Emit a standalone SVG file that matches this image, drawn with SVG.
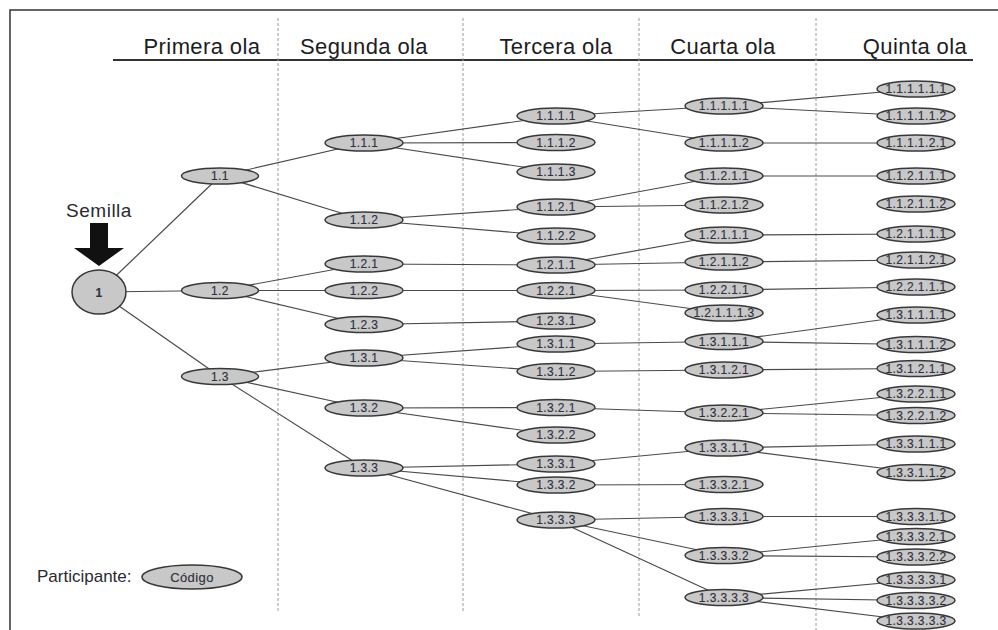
<svg xmlns="http://www.w3.org/2000/svg" width="998" height="630" viewBox="0 0 998 630">
<style>
.frame{stroke:#333;stroke-width:1.5;fill:none}
.hdr{font-family:"Liberation Sans",Arial,sans-serif;font-size:22px;fill:#1c1c22;text-anchor:middle;letter-spacing:0.4px}
.div{stroke:#9a9a9a;stroke-width:1;stroke-dasharray:3 2}
.n ellipse{fill:#c8c8c8;stroke:#383838;stroke-width:1.5}
.n text{font-family:"Liberation Sans",Arial,sans-serif;font-size:12px;fill:#30303e;text-anchor:middle;letter-spacing:0.4px;stroke:#30303e;stroke-width:0.15}
#edges line{stroke:#4a4a4a;stroke-width:1.2}
.lbl{font-family:"Liberation Sans",Arial,sans-serif;fill:#2a2a30}
</style>
<rect width="998" height="630" fill="#fff"/>
<path class="frame" d="M10,630 V10 H998"/>
<line x1="113" y1="60" x2="973" y2="60" stroke="#333" stroke-width="2"/>
<g id="headers">
<text class="hdr" x="202" y="54">Primera ola</text>
<text class="hdr" x="364" y="54">Segunda ola</text>
<text class="hdr" x="556" y="54">Tercera ola</text>
<text class="hdr" x="723" y="54">Cuarta ola</text>
<text class="hdr" x="915" y="54">Quinta ola</text>
</g>
<g id="dividers">
<line class="div" x1="278" y1="18" x2="278" y2="612"/>
<line class="div" x1="463" y1="18" x2="463" y2="612"/>
<line class="div" x1="639" y1="18" x2="639" y2="618"/>
<line class="div" x1="816" y1="18" x2="816" y2="630"/>
</g>
<g id="seed">
<text class="lbl" x="99" y="217" font-size="19" text-anchor="middle" letter-spacing="0.5">Semilla</text>
<path d="M90,223 H108 V248 H124 L99,266 L74,248 H90 Z" fill="#111"/>
</g>
<g id="edges">
<line x1="99" y1="292" x2="220" y2="176"/>
<line x1="99" y1="292" x2="220" y2="290.5"/>
<line x1="99" y1="292" x2="220" y2="376.5"/>
<line x1="220" y1="176" x2="364" y2="143"/>
<line x1="220" y1="176" x2="364" y2="220"/>
<line x1="220" y1="290.5" x2="364" y2="264"/>
<line x1="220" y1="290.5" x2="364" y2="290.5"/>
<line x1="220" y1="290.5" x2="364" y2="324.5"/>
<line x1="220" y1="376.5" x2="364" y2="358"/>
<line x1="220" y1="376.5" x2="364" y2="408"/>
<line x1="220" y1="376.5" x2="364" y2="468"/>
<line x1="364" y1="143" x2="556" y2="116"/>
<line x1="364" y1="143" x2="556" y2="142.5"/>
<line x1="364" y1="143" x2="556" y2="172"/>
<line x1="364" y1="220" x2="556" y2="207"/>
<line x1="364" y1="220" x2="556" y2="236"/>
<line x1="364" y1="264" x2="556" y2="265"/>
<line x1="364" y1="290.5" x2="556" y2="290.5"/>
<line x1="364" y1="324.5" x2="556" y2="321"/>
<line x1="364" y1="358" x2="556" y2="344"/>
<line x1="364" y1="358" x2="556" y2="371.5"/>
<line x1="364" y1="408" x2="556" y2="407.5"/>
<line x1="364" y1="408" x2="556" y2="435"/>
<line x1="364" y1="468" x2="556" y2="464"/>
<line x1="364" y1="468" x2="556" y2="485"/>
<line x1="364" y1="468" x2="556" y2="520"/>
<line x1="556" y1="116" x2="724" y2="106"/>
<line x1="556" y1="116" x2="724" y2="143"/>
<line x1="556" y1="207" x2="724" y2="176"/>
<line x1="556" y1="207" x2="724" y2="205"/>
<line x1="556" y1="265" x2="724" y2="235"/>
<line x1="556" y1="265" x2="724" y2="262"/>
<line x1="556" y1="290.5" x2="724" y2="290"/>
<line x1="556" y1="290.5" x2="724" y2="313"/>
<line x1="556" y1="344" x2="724" y2="341.5"/>
<line x1="556" y1="371.5" x2="724" y2="370"/>
<line x1="556" y1="407.5" x2="724" y2="413"/>
<line x1="556" y1="464" x2="724" y2="448"/>
<line x1="556" y1="485" x2="724" y2="484.5"/>
<line x1="556" y1="520" x2="724" y2="516.5"/>
<line x1="556" y1="520" x2="724" y2="555.5"/>
<line x1="556" y1="520" x2="724" y2="597.5"/>
<line x1="724" y1="106" x2="916" y2="89"/>
<line x1="724" y1="106" x2="916" y2="116"/>
<line x1="724" y1="143" x2="916" y2="143"/>
<line x1="724" y1="176" x2="916" y2="176"/>
<line x1="724" y1="235" x2="916" y2="234"/>
<line x1="724" y1="262" x2="916" y2="260"/>
<line x1="724" y1="290" x2="916" y2="287"/>
<line x1="724" y1="341.5" x2="916" y2="315"/>
<line x1="724" y1="341.5" x2="916" y2="344.5"/>
<line x1="724" y1="370" x2="916" y2="368.5"/>
<line x1="724" y1="413" x2="916" y2="394"/>
<line x1="724" y1="413" x2="916" y2="415.5"/>
<line x1="724" y1="448" x2="916" y2="444"/>
<line x1="724" y1="448" x2="916" y2="472.5"/>
<line x1="724" y1="516.5" x2="916" y2="516.5"/>
<line x1="724" y1="555.5" x2="916" y2="536.5"/>
<line x1="724" y1="555.5" x2="916" y2="557"/>
<line x1="724" y1="597.5" x2="916" y2="580"/>
<line x1="724" y1="597.5" x2="916" y2="600.5"/>
<line x1="724" y1="597.5" x2="916" y2="621"/>
</g>
<g id="n1" class="n"><ellipse cx="99" cy="292" rx="27" ry="22"/><text x="99" y="296.5" style="font-weight:bold">1</text></g>
<g id="n1-1" class="n"><ellipse cx="220" cy="176" rx="38.5" ry="8"/><text x="220" y="180.3">1.1</text></g>
<g id="n1-2" class="n"><ellipse cx="220" cy="290.5" rx="38.5" ry="8"/><text x="220" y="294.8">1.2</text></g>
<g id="n1-3" class="n"><ellipse cx="220" cy="376.5" rx="38.5" ry="8"/><text x="220" y="380.8">1.3</text></g>
<g id="n1-1-1" class="n"><ellipse cx="364" cy="143" rx="39" ry="8"/><text x="364" y="147.3">1.1.1</text></g>
<g id="n1-1-2" class="n"><ellipse cx="364" cy="220" rx="39" ry="8"/><text x="364" y="224.3">1.1.2</text></g>
<g id="n1-2-1" class="n"><ellipse cx="364" cy="264" rx="39" ry="8"/><text x="364" y="268.3">1.2.1</text></g>
<g id="n1-2-2" class="n"><ellipse cx="364" cy="290.5" rx="39" ry="8"/><text x="364" y="294.8">1.2.2</text></g>
<g id="n1-2-3" class="n"><ellipse cx="364" cy="324.5" rx="39" ry="8"/><text x="364" y="328.8">1.2.3</text></g>
<g id="n1-3-1" class="n"><ellipse cx="364" cy="358" rx="39" ry="8"/><text x="364" y="362.3">1.3.1</text></g>
<g id="n1-3-2" class="n"><ellipse cx="364" cy="408" rx="39" ry="8"/><text x="364" y="412.3">1.3.2</text></g>
<g id="n1-3-3" class="n"><ellipse cx="364" cy="468" rx="39" ry="8"/><text x="364" y="472.3">1.3.3</text></g>
<g id="n1-1-1-1" class="n"><ellipse cx="556" cy="116" rx="39" ry="8"/><text x="556" y="120.3">1.1.1.1</text></g>
<g id="n1-1-1-2" class="n"><ellipse cx="556" cy="142.5" rx="39" ry="8"/><text x="556" y="146.8">1.1.1.2</text></g>
<g id="n1-1-1-3" class="n"><ellipse cx="556" cy="172" rx="39" ry="8"/><text x="556" y="176.3">1.1.1.3</text></g>
<g id="n1-1-2-1" class="n"><ellipse cx="556" cy="207" rx="39" ry="8"/><text x="556" y="211.3">1.1.2.1</text></g>
<g id="n1-1-2-2" class="n"><ellipse cx="556" cy="236" rx="39" ry="8"/><text x="556" y="240.3">1.1.2.2</text></g>
<g id="n1-2-1-1" class="n"><ellipse cx="556" cy="265" rx="39" ry="8"/><text x="556" y="269.3">1.2.1.1</text></g>
<g id="n1-2-2-1" class="n"><ellipse cx="556" cy="290.5" rx="39" ry="8"/><text x="556" y="294.8">1.2.2.1</text></g>
<g id="n1-2-3-1" class="n"><ellipse cx="556" cy="321" rx="39" ry="8"/><text x="556" y="325.3">1.2.3.1</text></g>
<g id="n1-3-1-1" class="n"><ellipse cx="556" cy="344" rx="39" ry="8"/><text x="556" y="348.3">1.3.1.1</text></g>
<g id="n1-3-1-2" class="n"><ellipse cx="556" cy="371.5" rx="39" ry="8"/><text x="556" y="375.8">1.3.1.2</text></g>
<g id="n1-3-2-1" class="n"><ellipse cx="556" cy="407.5" rx="39" ry="8"/><text x="556" y="411.8">1.3.2.1</text></g>
<g id="n1-3-2-2" class="n"><ellipse cx="556" cy="435" rx="39" ry="8"/><text x="556" y="439.3">1.3.2.2</text></g>
<g id="n1-3-3-1" class="n"><ellipse cx="556" cy="464" rx="39" ry="8"/><text x="556" y="468.3">1.3.3.1</text></g>
<g id="n1-3-3-2" class="n"><ellipse cx="556" cy="485" rx="39" ry="8"/><text x="556" y="489.3">1.3.3.2</text></g>
<g id="n1-3-3-3" class="n"><ellipse cx="556" cy="520" rx="39" ry="8"/><text x="556" y="524.3">1.3.3.3</text></g>
<g id="n1-1-1-1-1" class="n"><ellipse cx="724" cy="106" rx="39" ry="8"/><text x="724" y="110.3">1.1.1.1.1</text></g>
<g id="n1-1-1-1-2" class="n"><ellipse cx="724" cy="143" rx="39" ry="8"/><text x="724" y="147.3">1.1.1.1.2</text></g>
<g id="n1-1-2-1-1" class="n"><ellipse cx="724" cy="176" rx="39" ry="8"/><text x="724" y="180.3">1.1.2.1.1</text></g>
<g id="n1-1-2-1-2" class="n"><ellipse cx="724" cy="205" rx="39" ry="8"/><text x="724" y="209.3">1.1.2.1.2</text></g>
<g id="n1-2-1-1-1" class="n"><ellipse cx="724" cy="235" rx="39" ry="8"/><text x="724" y="239.3">1.2.1.1.1</text></g>
<g id="n1-2-1-1-2" class="n"><ellipse cx="724" cy="262" rx="39" ry="8"/><text x="724" y="266.3">1.2.1.1.2</text></g>
<g id="n1-2-2-1-1" class="n"><ellipse cx="724" cy="290" rx="39" ry="8"/><text x="724" y="294.3">1.2.2.1.1</text></g>
<g id="n1-2-1-1-1-3" class="n"><ellipse cx="724" cy="313" rx="39" ry="8"/><text x="724" y="317.3">1.2.1.1.1.3</text></g>
<g id="n1-3-1-1-1" class="n"><ellipse cx="724" cy="341.5" rx="39" ry="8"/><text x="724" y="345.8">1.3.1.1.1</text></g>
<g id="n1-3-1-2-1" class="n"><ellipse cx="724" cy="370" rx="39" ry="8"/><text x="724" y="374.3">1.3.1.2.1</text></g>
<g id="n1-3-2-2-1" class="n"><ellipse cx="724" cy="413" rx="39" ry="8"/><text x="724" y="417.3">1.3.2.2.1</text></g>
<g id="n1-3-3-1-1" class="n"><ellipse cx="724" cy="448" rx="39" ry="8"/><text x="724" y="452.3">1.3.3.1.1</text></g>
<g id="n1-3-3-2-1" class="n"><ellipse cx="724" cy="484.5" rx="39" ry="8"/><text x="724" y="488.8">1.3.3.2.1</text></g>
<g id="n1-3-3-3-1" class="n"><ellipse cx="724" cy="516.5" rx="39" ry="8"/><text x="724" y="520.8">1.3.3.3.1</text></g>
<g id="n1-3-3-3-2" class="n"><ellipse cx="724" cy="555.5" rx="39" ry="8"/><text x="724" y="559.8">1.3.3.3.2</text></g>
<g id="n1-3-3-3-3" class="n"><ellipse cx="724" cy="597.5" rx="39" ry="8"/><text x="724" y="601.8">1.3.3.3.3</text></g>
<g id="n1-1-1-1-1-1" class="n"><ellipse cx="916" cy="89" rx="39" ry="8"/><text x="916" y="93.3">1.1.1.1.1.1</text></g>
<g id="n1-1-1-1-1-2" class="n"><ellipse cx="916" cy="116" rx="39" ry="8"/><text x="916" y="120.3">1.1.1.1.1.2</text></g>
<g id="n1-1-1-1-2-1" class="n"><ellipse cx="916" cy="143" rx="39" ry="8"/><text x="916" y="147.3">1.1.1.1.2.1</text></g>
<g id="n1-1-2-1-1-1" class="n"><ellipse cx="916" cy="176" rx="39" ry="8"/><text x="916" y="180.3">1.1.2.1.1.1</text></g>
<g id="n1-1-2-1-1-2" class="n"><ellipse cx="916" cy="204" rx="39" ry="8"/><text x="916" y="208.3">1.1.2.1.1.2</text></g>
<g id="n1-2-1-1-1-1" class="n"><ellipse cx="916" cy="234" rx="39" ry="8"/><text x="916" y="238.3">1.2.1.1.1.1</text></g>
<g id="n1-2-1-1-2-1" class="n"><ellipse cx="916" cy="260" rx="39" ry="8"/><text x="916" y="264.3">1.2.1.1.2.1</text></g>
<g id="n1-2-2-1-1-1" class="n"><ellipse cx="916" cy="287" rx="39" ry="8"/><text x="916" y="291.3">1.2.2.1.1.1</text></g>
<g id="n1-3-1-1-1-1" class="n"><ellipse cx="916" cy="315" rx="39" ry="8"/><text x="916" y="319.3">1.3.1.1.1.1</text></g>
<g id="n1-3-1-1-1-2" class="n"><ellipse cx="916" cy="344.5" rx="39" ry="8"/><text x="916" y="348.8">1.3.1.1.1.2</text></g>
<g id="n1-3-1-2-1-1" class="n"><ellipse cx="916" cy="368.5" rx="39" ry="8"/><text x="916" y="372.8">1.3.1.2.1.1</text></g>
<g id="n1-3-2-2-1-1" class="n"><ellipse cx="916" cy="394" rx="39" ry="8"/><text x="916" y="398.3">1.3.2.2.1.1</text></g>
<g id="n1-3-2-2-1-2" class="n"><ellipse cx="916" cy="415.5" rx="39" ry="8"/><text x="916" y="419.8">1.3.2.2.1.2</text></g>
<g id="n1-3-3-1-1-1" class="n"><ellipse cx="916" cy="444" rx="39" ry="8"/><text x="916" y="448.3">1.3.3.1.1.1</text></g>
<g id="n1-3-3-1-1-2" class="n"><ellipse cx="916" cy="472.5" rx="39" ry="8"/><text x="916" y="476.8">1.3.3.1.1.2</text></g>
<g id="n1-3-3-3-1-1" class="n"><ellipse cx="916" cy="516.5" rx="39" ry="8"/><text x="916" y="520.8">1.3.3.3.1.1</text></g>
<g id="n1-3-3-3-2-1" class="n"><ellipse cx="916" cy="536.5" rx="39" ry="8"/><text x="916" y="540.8">1.3.3.3.2.1</text></g>
<g id="n1-3-3-3-2-2" class="n"><ellipse cx="916" cy="557" rx="39" ry="8"/><text x="916" y="561.3">1.3.3.3.2.2</text></g>
<g id="n1-3-3-3-3-1" class="n"><ellipse cx="916" cy="580" rx="39" ry="8"/><text x="916" y="584.3">1.3.3.3.3.1</text></g>
<g id="n1-3-3-3-3-2" class="n"><ellipse cx="916" cy="600.5" rx="39" ry="8"/><text x="916" y="604.8">1.3.3.3.3.2</text></g>
<g id="n1-3-3-3-3-3" class="n"><ellipse cx="916" cy="621" rx="39" ry="8"/><text x="916" y="625.3">1.3.3.3.3.3</text></g>
<g id="legend">
<text class="lbl" x="37" y="582" font-size="17">Participante:</text>
<g class="n"><ellipse cx="192" cy="577" rx="50" ry="12"/><text x="192" y="581.5" style="font-size:13px">Código</text></g>
</g>
</svg>
